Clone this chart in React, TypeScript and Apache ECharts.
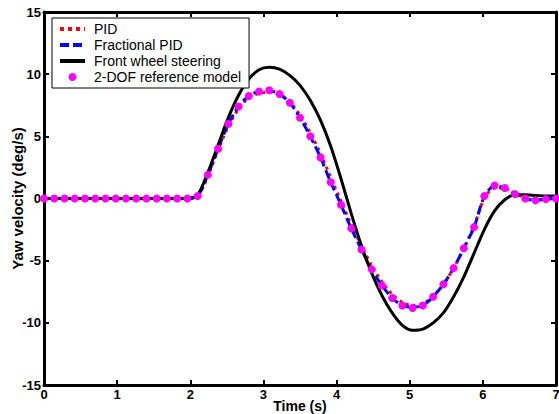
import React, { useEffect, useRef } from "react";
import * as echarts from "echarts";

const time = [0, 0.14, 0.28, 0.42, 0.56, 0.7, 0.84, 0.98, 1.12, 1.26, 1.4, 1.54, 1.68, 1.82, 1.96, 2.1, 2.24, 2.38, 2.52, 2.66, 2.8, 2.94, 3.08, 3.22, 3.36, 3.5, 3.64, 3.78, 3.92, 4.06, 4.2, 4.34, 4.48, 4.62, 4.76, 4.9, 5.04, 5.18, 5.32, 5.46, 5.6, 5.74, 5.88, 6.02, 6.16, 6.3, 6.44, 6.58, 6.72, 6.86, 7.0];

const pid = [0, 0, 0, 0, 0, 0, 0, 0, 0, 0, 0, 0, 0, 0, 0,
  0.2, 1.8, 3.9, 5.8, 7.2, 8.1, 8.45, 8.55, 8.35, 7.75,
  6.7, 5.3, 3.6, 1.7, -0.2, -2.1, -3.8, -5.4, -6.7, -7.7,
  -8.35, -8.6, -8.45, -7.85, -6.9, -5.6, -4.0, -2.2, 0.0, 0.85,
  0.8, 0.4, 0.05, -0.1, -0.05, 0];

const fracPid = [0, 0, 0, 0, 0, 0, 0, 0, 0, 0, 0, 0, 0, 0, 0,
  0.2, 1.9, 4.0, 6.0, 7.4, 8.25, 8.6, 8.65, 8.4, 7.7,
  6.5, 5.0, 3.3, 1.3, -0.5, -2.4, -4.1, -5.7, -7.0, -8.0,
  -8.6, -8.75, -8.6, -7.9, -6.9, -5.6, -4.0, -2.3, 0.15, 1.0,
  0.85, 0.35, 0.0, -0.15, -0.05, 0];

const frontWheel = [0, 0, 0, 0, 0, 0, 0, 0, 0, 0, 0, 0, 0, 0, 0,
  0.3, 2.1, 4.3, 6.5, 8.3, 9.6, 10.35, 10.55, 10.4, 9.9,
  9.1, 7.9, 6.3, 4.2, 1.6, -1.2, -3.8, -6.0, -7.8, -9.2,
  -10.2, -10.6, -10.5, -10.0, -9.2, -7.9, -6.3, -4.4, -2.5, -1.0,
  -0.1, 0.3, 0.3, 0.25, 0.2, 0.2];

const refModel = [0, 0, 0, 0, 0, 0, 0, 0, 0, 0, 0, 0, 0, 0, 0,
  0.2, 1.9, 4.0, 6.0, 7.4, 8.25, 8.6, 8.7, 8.4, 7.7,
  6.5, 5.0, 3.3, 1.3, -0.5, -2.4, -4.1, -5.7, -7.0, -8.0,
  -8.6, -8.8, -8.6, -7.9, -6.9, -5.6, -4.0, -2.3, 0.2, 1.05,
  0.85, 0.35, 0.0, -0.15, -0.05, 0];

const seriesNames = ["PID", "Fractional PID", "Front wheel steering", "2-DOF reference model"];
const xTicks = { min: 0, max: 7, interval: 1 };
const yTicks = { min: -15, max: 15, interval: 5 };

const pairs = (vals: number[]) => time.map((t, i) => [t, vals[i]]);

export default function App() {
  const ref = useRef<HTMLDivElement>(null);
  useEffect(() => {
    if (!ref.current) return;
    const chart = echarts.init(ref.current, undefined, { renderer: "svg" });
    const font = "Arial, 'Liberation Sans', sans-serif";
    const axisLine = { show: true, onZero: false, lineStyle: { color: "#000", width: 3 } };
    const tick = { show: true, inside: true, length: 5, lineStyle: { color: "#000", width: 2 } };
    const label = { color: "#000", fontWeight: "bold" as const, fontSize: 13, fontFamily: font, margin: 3 };
    const nameStyle = { color: "#000", fontWeight: "bold" as const, fontSize: 15, fontFamily: font };
    chart.setOption({
      animation: false,
      backgroundColor: "#fff",
      grid: { left: 44, right: 3, top: 12, bottom: 29, containLabel: false, outerBoundsMode: "none" },
      legend: {
        left: 52,
        top: 18,
        orient: "vertical",
        data: [
          { name: seriesNames[0], itemStyle: { opacity: 0 }, lineStyle: { width: 4, type: [4, 4] } },
          { name: seriesNames[1], itemStyle: { opacity: 0 }, lineStyle: { width: 4, type: [9, 4] } },
          { name: seriesNames[2], itemStyle: { opacity: 0 }, lineStyle: { width: 4 } },
          { name: seriesNames[3] },
        ],
        backgroundColor: "#fff",
        borderColor: "#000",
        borderWidth: 1,
        borderRadius: 0,
        padding: [4, 8, 4, 6],
        itemWidth: 25,
        itemHeight: 10,
        itemGap: 2,
        textStyle: { color: "#000", fontSize: 14, fontFamily: font, lineHeight: 14, padding: [0, 0, 0, 4] },
      },
      xAxis: [
        {
          type: "value", ...xTicks, position: "bottom",
          axisLine, axisTick: tick, axisLabel: label, splitLine: { show: false },
          name: "Time (s)", nameLocation: "middle", nameGap: 13, nameMoveOverlap: false,
          nameTextStyle: { ...nameStyle, fontSize: 14, lineHeight: 15 },
        },
        {
          type: "value", ...xTicks, position: "top",
          axisLine, axisTick: tick, axisLabel: { show: false }, splitLine: { show: false },
        },
      ],
      yAxis: [
        {
          type: "value", ...yTicks, position: "left",
          axisLine, axisTick: tick, axisLabel: label, splitLine: { show: false },
          name: "Yaw velocity (deg/s)", nameLocation: "middle", nameGap: 19, nameMoveOverlap: false,
          nameTextStyle: nameStyle,
        },
        {
          type: "value", ...yTicks, position: "right",
          axisLine, axisTick: tick, axisLabel: { show: false }, splitLine: { show: false },
        },
      ],
      series: [
        {
          name: seriesNames[0], type: "line", data: pairs(pid), symbol: "none", smooth: 0.3,
          itemStyle: { color: "#ff0000" },
          lineStyle: { color: "#ff0000", width: 3, type: [3, 4] },
        },
        {
          name: seriesNames[1], type: "line", data: pairs(fracPid), symbol: "none", smooth: 0.3,
          itemStyle: { color: "#0000ff" },
          lineStyle: { color: "#0000ff", width: 3, type: [9, 4] },
        },
        {
          name: seriesNames[2], type: "line", data: pairs(frontWheel), symbol: "none", smooth: 0.3,
          itemStyle: { color: "#000" },
          lineStyle: { color: "#000", width: 3 },
        },
        {
          name: seriesNames[3], type: "line", data: pairs(refModel), symbol: "circle", symbolSize: 8,
          showSymbol: true, smooth: 0.3,
          itemStyle: { color: "#ff00ff", borderWidth: 0 },
          lineStyle: { width: 0, opacity: 0 },
        },
      ],
    });
    return () => chart.dispose();
  }, []);
  return <div ref={ref} style={{ width: 559, height: 414, position: "absolute", left: 0, top: 0 }} />;
}
